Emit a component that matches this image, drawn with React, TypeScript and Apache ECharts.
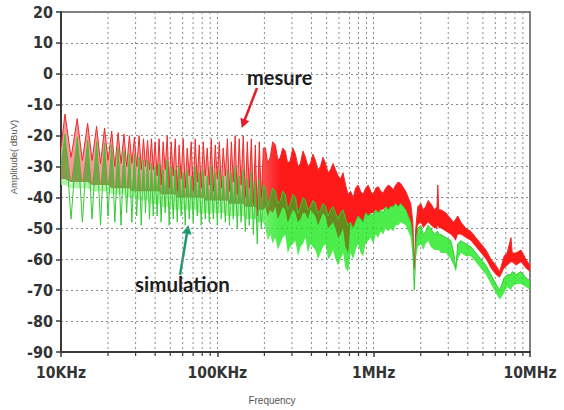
import React, { useEffect, useRef } from "react";
import * as echarts from "echarts";

// Frequency axis decade labels and log-paper minor lines (kHz)
const freqTickLabels = ["10KHz", "100KHz", "1MHz", "10MHz"];
const minorFreqKHz = [
  20, 30, 40, 50, 60, 70, 80, 90,
  200, 300, 400, 500, 600, 700, 800, 900,
  2000, 3000, 4000, 5000, 6000, 7000, 8000, 9000,
];

// Spectrum sample frequencies (kHz)
const freqKHz = [
  10.0, 10.6, 11.6, 12.7, 13.7, 14.8, 15.8, 16.9, 17.9, 19.0,
  20.0, 21.1, 22.1, 23.2, 24.2, 25.3, 26.3, 27.4, 28.4, 29.5,
  30.5, 31.6, 32.6, 33.7, 34.7, 35.8, 36.8, 37.9, 38.9, 40.0,
  41.2, 42.4, 43.7, 45.0, 46.4, 47.8, 49.2, 50.7, 52.2, 53.8,
  55.4, 57.0, 58.7, 60.5, 62.3, 64.2, 66.1, 68.1, 70.1, 72.2,
  74.4, 76.6, 78.9, 81.3, 83.7, 86.2, 88.8, 91.5, 94.2, 97.0,
  100, 103, 106, 109, 112.5, 116, 119.5, 123, 126.5, 130,
  134, 138, 142, 146.5, 151, 155.5, 160, 165, 170, 175,
  180, 185.5, 191, 197,
  203, 210, 218, 226, 235, 244, 253, 262, 272, 282,
  293, 304, 316, 328, 340, 353, 366, 380, 394, 409,
  424, 440, 457, 474, 492, 511, 530, 550, 570, 592,
  614, 637, 661, 686, 712, 739, 766, 795, 825, 856,
  888, 922, 957, 993, 1030, 1069, 1109, 1151, 1194, 1239,
  1285, 1334, 1384, 1436, 1490, 1604, 1727, 1780, 1820, 1860,
  1915, 2001, 2074, 2150, 2233, 2319, 2450, 2540, 2572, 2610,
  2690, 2900, 3116, 3250, 3354, 3450, 3612, 3890, 4187, 4510,
  4853, 5230, 5623, 6050, 6400, 6830, 7140, 7554, 7700, 8130,
  8756, 9425, 10000,
];

// Measured spectrum: upper trace (peaks / notches) and lower edge (dBuV)
const mesureTop = [
  -24, -13, -27, -14.5, -28, -16, -28, -17, -29, -17.5,
  -28, -18.5, -30, -19, -29, -19.5, -30, -20, -29, -20.5,
  -30, -20, -31, -21, -30, -21.5, -31, -21, -31, -22,
  -33, -21, -36, -22, -31, -20, -37, -22, -33, -21,
  -38, -23, -34, -21, -37, -24, -33, -22, -38, -21,
  -35, -23, -37, -22, -33, -24, -36, -21, -38, -23,
  -34, -22, -37, -24, -33, -21, -38, -22, -35, -20,
  -39, -21, -36, -20, -40, -22, -37, -21, -42, -23,
  -46, -22, -40, -24,
  -24, -29, -27, -22, -23, -28, -27, -24, -25, -29,
  -28, -24, -26, -30, -29, -25, -27, -30, -29, -26,
  -28, -31, -30, -27, -29, -32, -31, -29, -31, -33,
  -34, -32, -36, -39, -38, -40, -37, -36, -38, -39,
  -37, -36, -38, -39, -37, -36.5, -38, -38.5, -37, -36,
  -36.5, -37.5, -36, -35, -35.5, -38, -42, -48, -63, -50,
  -43, -42, -44, -43, -41, -42, -44, -43, -36, -44,
  -44, -45, -47, -48, -47, -46, -48, -50, -51, -53,
  -55, -57, -60, -62, -64, -59, -58, -53, -58, -58,
  -57, -60, -62,
];
const mesureFloor = [
  -34, -34, -35, -35, -35, -35, -36, -36, -36, -36,
  -36, -37, -37, -37, -37, -37, -37, -37, -38, -38,
  -38, -38, -38, -38, -38, -38, -38, -38, -38, -38,
  -38, -38, -39, -39, -39, -39, -39, -39, -39, -39,
  -40, -40, -40, -40, -40, -40, -40, -40, -40, -40,
  -40, -40, -40, -40, -41, -41, -41, -41, -41, -41,
  -41, -41, -41, -41, -41, -41, -42, -42, -42, -42,
  -42, -42, -42, -42, -43, -43, -43, -43, -43, -43,
  -44, -44, -44, -44,
  -43, -46, -44, -45, -43, -47, -45, -43, -44, -48,
  -46, -44, -45, -48, -47, -45, -45, -47, -44, -45,
  -46, -49, -47, -45, -46, -50, -49, -48, -50, -53,
  -52, -50, -56, -58, -48, -50, -48, -46, -47, -48,
  -45, -46, -45, -45, -44, -45, -44, -44, -43, -44,
  -43, -43, -42, -43, -42, -44, -48, -54, -64, -55,
  -49, -48, -50, -49, -48, -49, -50, -50, -49, -50,
  -50, -51, -52, -53, -54, -52, -52, -53, -54, -56,
  -58, -60, -63, -65, -66, -63, -62, -61, -61, -62,
  -61, -63, -64,
];

// Simulated spectrum: upper trace and lower edge (dBuV)
const simulationTop = [
  -30, -19.5, -47, -20.5, -48, -21.5, -47, -22, -49, -22.5,
  -46, -23, -48, -24, -49, -25, -45, -26, -48, -26,
  -46, -27, -49, -28, -45, -28, -47, -29, -46, -30,
  -46, -29, -48, -31, -45, -28, -49, -30, -47, -31,
  -48, -30, -46, -32, -49, -31, -47, -33, -48, -30,
  -46, -32, -49, -31, -47, -33, -48, -30, -47, -32,
  -49, -31, -47, -33, -48, -31, -49, -32, -47, -30,
  -50, -33, -48, -31, -51, -34, -49, -32, -52, -35,
  -55, -34, -50, -36,
  -37, -43, -40, -37, -38, -42, -41, -38, -39, -44,
  -42, -39, -40, -45, -43, -40, -41, -44, -43, -41,
  -42, -45, -44, -42, -43, -46, -44, -43, -45, -47,
  -45, -44, -47, -49, -48, -50, -48, -46, -47, -48,
  -45, -46, -45, -46, -44, -45, -44, -45, -43, -44,
  -43, -43, -42, -43, -42, -44, -48, -54, -70, -56,
  -50, -49, -52, -51, -49, -50, -52, -51, -51, -52,
  -52, -53, -54, -58, -63, -55, -54, -55, -56, -58,
  -60, -62, -65, -68, -70, -66, -65, -65, -64, -65,
  -64, -66, -67,
];
const simulationFloor = [
  -36, -36, -37, -37, -37, -37, -38, -38, -38, -38,
  -38, -39, -39, -39, -39, -39, -40, -40, -40, -40,
  -40, -41, -41, -41, -41, -41, -42, -42, -42, -42,
  -42, -42, -43, -43, -43, -43, -43, -43, -44, -44,
  -44, -44, -44, -44, -44, -44, -44, -44, -44, -44,
  -45, -45, -45, -45, -45, -45, -45, -45, -45, -45,
  -45, -45, -45, -45, -46, -46, -46, -46, -46, -46,
  -46, -46, -46, -46, -47, -47, -47, -47, -47, -47,
  -48, -48, -48, -48,
  -50, -54, -52, -55, -53, -57, -55, -53, -52, -58,
  -56, -55, -54, -59, -56, -55, -53, -58, -55, -56,
  -57, -60, -58, -56, -55, -60, -59, -57, -60, -62,
  -60, -58, -63, -64, -58, -60, -57, -55, -58, -59,
  -55, -54, -53, -55, -52, -53, -51, -52, -50, -51,
  -50, -51, -49, -49, -48, -49, -53, -60, -71, -60,
  -56, -55, -57, -55, -54, -56, -57, -57, -57, -57,
  -58, -58, -60, -62, -64, -60, -58, -59, -59, -61,
  -63, -65, -68, -71, -73, -71, -69, -70, -69, -68,
  -68, -69, -70,
];

const AXIS_FONT = "'Liberation Sans Narrow', 'DejaVu Sans Condensed', sans-serif";
const NOTE_FONT = "Lato, 'Open Sans', sans-serif";

type Pt = number[];

function bandPolygon(api: any, upper: number[], lower: number[], low: string, high: string) {
  const up: Pt[] = freqKHz.map((f, i) => api.coord([f, Math.max(upper[i], lower[i])]));
  const dn: Pt[] = freqKHz.map((f, i) => api.coord([f, lower[i]])).reverse();
  const gx0 = api.coord([140, 0])[0];
  const gx1 = api.coord([250, 0])[0];
  return {
    type: "polygon",
    shape: { points: up.concat(dn) },
    style: {
      fill: new echarts.graphic.LinearGradient(
        gx0, 0, gx1, 0,
        [
          { offset: 0, color: low },
          { offset: 1, color: high },
        ],
        true
      ),
      stroke: null,
    },
  };
}

export default function App() {
  const ref = useRef<HTMLDivElement>(null);

  useEffect(() => {
    if (!ref.current) return;
    const chart = echarts.init(ref.current, null, { renderer: "svg" });

    // where the two bands share the same level
    const overlapTop = freqKHz.map((_, i) =>
      Math.min(Math.max(mesureTop[i], mesureFloor[i]), Math.max(simulationTop[i], simulationFloor[i]))
    );
    const overlapBottom = freqKHz.map((_, i) => Math.max(mesureFloor[i], simulationFloor[i]));
    const overlapUpper = overlapTop.map((v, i) => Math.max(v, overlapBottom[i]));

    const anchor = [[10, -90]];

    const option: any = {
      animation: false,
      backgroundColor: "#ffffff",
      grid: {
        left: 61,
        right: 34,
        top: 12,
        bottom: 58,
        show: true,
        borderColor: "#555",
        borderWidth: 1.5,
        backgroundColor: "transparent",
      },
      xAxis: {
        type: "log",
        logBase: 10,
        min: 10,
        max: 10000,
        axisLine: { show: true, onZero: false, lineStyle: { color: "#3a3a3a", width: 2 } },
        axisTick: { show: true, length: 5, lineStyle: { color: "#3a3a3a", width: 1.5 } },
        axisLabel: {
          margin: 13,
          color: "#333",
          fontFamily: AXIS_FONT,
          fontWeight: "bold",
          fontSize: 15.5,
          formatter: (v: number) => freqTickLabels[Math.round(Math.log10(v)) - 1] ?? "",
        },
        splitLine: { show: true, lineStyle: { color: "#8a8a8a", width: 1, type: [2, 3] } },
      },
      yAxis: {
        type: "value",
        min: -90,
        max: 20,
        interval: 10,
        axisLine: { show: true, onZero: false, lineStyle: { color: "#3a3a3a", width: 2 } },
        axisTick: { show: true, length: 5, lineStyle: { color: "#3a3a3a", width: 1.5 } },
        axisLabel: {
          margin: 8,
          color: "#333",
          fontFamily: AXIS_FONT,
          fontWeight: "bold",
          fontSize: 16,
        },
        splitLine: { show: true, lineStyle: { color: "#8a8a8a", width: 1, type: [2, 3] } },
      },
      series: [
        {
          type: "custom",
          name: "minor-grid",
          z: 1,
          silent: true,
          data: anchor,
          renderItem: (_p: any, api: any) => {
            const children: any[] = [];
            for (const f of minorFreqKHz) {
              const [x, yTop] = api.coord([f, 20]);
              const yBot = api.coord([f, -90])[1];
              children.push({
                type: "line",
                shape: { x1: x, y1: yTop, x2: x, y2: yBot },
                style: { stroke: "#8a8a8a", lineWidth: 1, lineDash: [2, 3] },
              });
              children.push({
                type: "line",
                shape: { x1: x, y1: yBot, x2: x, y2: yBot + 4 },
                style: { stroke: "#3a3a3a", lineWidth: 1.2 },
              });
            }
            return { type: "group", children };
          },
        },
        {
          type: "custom",
          name: "mesure-band",
          z: 2,
          silent: true,
          data: anchor,
          renderItem: (_p: any, api: any) =>
            bandPolygon(api, mesureTop, mesureFloor, "#f59a9a", "#ff1a1a"),
        },
        {
          type: "custom",
          name: "simulation-band",
          z: 3,
          silent: true,
          data: anchor,
          renderItem: (_p: any, api: any) => {
            const el: any = bandPolygon(api, simulationTop, simulationFloor, "#9cef94", "#1fe81f");
            el.style.opacity = 0.8;
            return el;
          },
        },
        {
          type: "custom",
          name: "overlap-band",
          z: 4,
          silent: true,
          data: anchor,
          renderItem: (_p: any, api: any) => {
            const up = freqKHz.map((f, i) => api.coord([f, overlapUpper[i]]));
            const dn = freqKHz.map((f, i) => api.coord([f, overlapBottom[i]])).reverse();
            return {
              type: "polygon",
              shape: { points: up.concat(dn) },
              style: { fill: "#7a6620", opacity: 0.6 },
            };
          },
        },
        {
          type: "line",
          name: "mesure",
          z: 5,
          silent: true,
          showSymbol: false,
          data: freqKHz.map((f, i) => [f, mesureTop[i]]),
          lineStyle: { color: "#ec2a2a", width: 1 },
        },
        {
          type: "line",
          name: "simulation",
          z: 6,
          silent: true,
          showSymbol: false,
          data: freqKHz.map((f, i) => [f, simulationTop[i]]),
          lineStyle: { color: "#32cc32", width: 1 },
        },
      ],
      graphic: [
        {
          type: "text",
          x: 13.5,
          y: 157,
          rotation: Math.PI / 2,
          style: {
            text: "Amplitude( dBuV)",
            fontFamily: "'Liberation Sans', Arial, sans-serif",
            fontSize: 9.5,
            fill: "#555",
            align: "center",
            verticalAlign: "middle",
          },
        },
        {
          type: "text",
          x: 272,
          y: 400,
          style: {
            text: "Frequency",
            fontFamily: "'Liberation Sans', Arial, sans-serif",
            fontSize: 10,
            fill: "#555",
            align: "center",
            verticalAlign: "middle",
          },
        },
        {
          type: "text",
          x: 247,
          y: 77,
          style: {
            text: "mesure",
            fontFamily: NOTE_FONT,
            fontWeight: "bold",
            fontSize: 20,
            fill: "#1c1c1c",
            align: "left",
            verticalAlign: "middle",
          },
        },
        {
          type: "text",
          x: 135,
          y: 284,
          style: {
            text: "simulation",
            fontFamily: NOTE_FONT,
            fontWeight: "bold",
            fontSize: 20.5,
            fill: "#1c1c1c",
            align: "left",
            verticalAlign: "middle",
          },
        },
        {
          type: "line",
          shape: { x1: 257, y1: 88, x2: 244.5, y2: 120.5 },
          style: { stroke: "#e31e2a", lineWidth: 2.5 },
        },
        {
          type: "polygon",
          shape: { points: [[241.7, 128], [249.3, 121.2], [240.5, 117.8]] },
          style: { fill: "#e31e2a" },
        },
        {
          type: "line",
          shape: { x1: 180, y1: 275, x2: 187, y2: 233 },
          style: { stroke: "#1e9b6c", lineWidth: 2.5 },
        },
        {
          type: "polygon",
          shape: { points: [[188.3, 225], [191.6, 234.7], [182.2, 233.1]] },
          style: { fill: "#1e9b6c" },
        },
      ],
    };

    chart.setOption(option);
    return () => chart.dispose();
  }, []);

  return (
    <div
      ref={ref}
      style={{ position: "absolute", left: 0, top: 0, width: 564, height: 410 }}
    />
  );
}
